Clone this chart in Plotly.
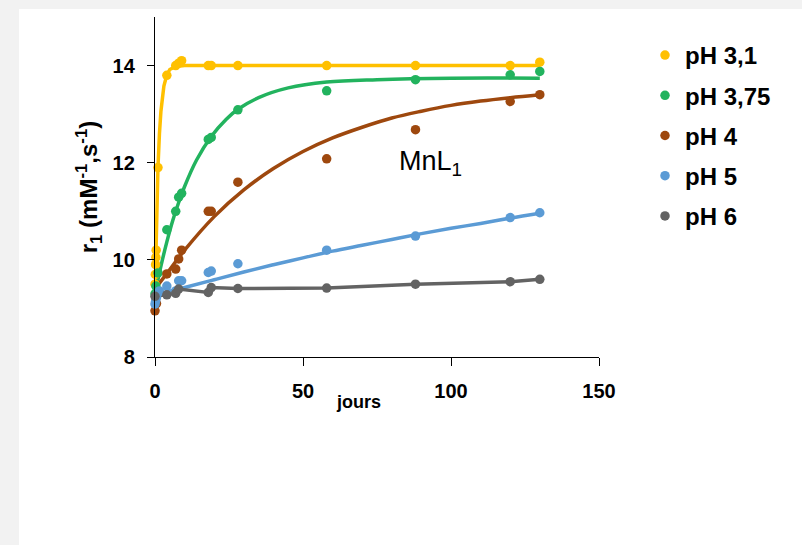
import plotly.graph_objects as go

# ---- data ----
series_names = ["pH 3,1", "pH 3,75", "pH 4", "pH 5", "pH 6"]
colors = ["#FFC000", "#22B35E", "#9E480E", "#5B9BD5", "#636363"]

# measured points
t_ph31 = [0, 0.1, 0.2, 0.3, 0.4, 1, 4, 7, 8, 9, 18, 19, 28, 58, 88, 120, 130]
r_ph31 = [9.5, 9.7, 9.9, 10.05, 10.2, 11.9, 13.8, 14.0, 14.05, 14.1, 14.0, 14.0, 14.0, 14.0, 14.0, 14.0, 14.07]

t_ph375 = [0, 0.3, 1, 4, 7, 8, 9, 18, 19, 28, 58, 88, 120, 130]
r_ph375 = [9.3, 9.46, 9.73, 10.62, 11.0, 11.29, 11.37, 12.48, 12.52, 13.09, 13.48, 13.71, 13.81, 13.88]

t_ph4 = [0, 0.5, 4, 7, 8, 9, 18, 19, 28, 58, 88, 120, 130]
r_ph4 = [8.95, 9.1, 9.71, 9.81, 10.02, 10.2, 11.0, 11.0, 11.6, 12.08, 12.68, 13.26, 13.4]

t_ph5 = [0, 0.2, 0.5, 1, 1.5, 4, 7, 8, 9, 18, 19, 28, 58, 88, 120, 130]
r_ph5 = [9.09, 9.15, 9.22, 9.32, 9.36, 9.46, 9.36, 9.57, 9.57, 9.74, 9.77, 9.92, 10.2, 10.49, 10.87, 10.97]

t_ph6 = [0, 4, 7, 8, 18, 19, 28, 58, 88, 120, 130]
r_ph6 = [9.25, 9.28, 9.31, 9.4, 9.33, 9.43, 9.41, 9.42, 9.5, 9.55, 9.6]

# fitted curves
fit_t_ph31 = [0, 0.25, 0.5, 1, 1.5, 2, 3, 4, 5, 7, 10, 130]
fit_r_ph31 = [9.3, 10.16, 10.86, 11.9, 12.6, 13.06, 13.58, 13.81, 13.92, 13.98, 14.0, 14.0]

fit_t_ph375 = [0, 2, 4, 6, 8, 10, 14, 19, 24, 28, 35, 45, 58, 75, 100, 130]
fit_r_ph375 = [9.3, 9.87, 10.37, 10.81, 11.18, 11.51, 12.05, 12.54, 12.89, 13.10, 13.34, 13.54, 13.66, 13.71, 13.74, 13.74]

fit_t_ph4 = [0, 5, 10, 20, 30, 40, 50, 60, 70, 80, 90, 100, 110, 120, 130]
fit_r_ph4 = [9.4, 9.80, 10.20, 10.89, 11.44, 11.88, 12.23, 12.51, 12.73, 12.92, 13.06, 13.18, 13.27, 13.34, 13.40]

fit_t_ph5 = [0, 10, 20, 30, 40, 50, 60, 70, 80, 90, 100, 110, 120, 130]
fit_r_ph5 = [9.28, 9.43, 9.59, 9.75, 9.9, 10.04, 10.18, 10.3, 10.42, 10.54, 10.65, 10.75, 10.86, 10.96]

x_ticks = [0, 50, 100, 150]
y_ticks = [8, 10, 12, 14]

points = [(t_ph31, r_ph31), (t_ph375, r_ph375), (t_ph4, r_ph4), (t_ph5, r_ph5), (t_ph6, r_ph6)]
fits = [(fit_t_ph31, fit_r_ph31, "linear"), (fit_t_ph375, fit_r_ph375, "spline"),
        (fit_t_ph4, fit_r_ph4, "spline"), (fit_t_ph5, fit_r_ph5, "spline"),
        (t_ph6, r_ph6, "linear")]

FONT = "Liberation Sans, Arial, sans-serif"

fig = go.Figure()
for i, (name, col) in enumerate(zip(series_names, colors)):
    ft, fr, shape = fits[i]
    fig.add_trace(go.Scatter(x=ft, y=fr, mode="lines", line=dict(color=col, width=3.5, shape=shape),
                             showlegend=False, hoverinfo="skip", cliponaxis=False))
for i, (name, col) in enumerate(zip(series_names, colors)):
    pt, pr = points[i]
    fig.add_trace(go.Scatter(x=pt, y=pr, mode="markers", name=name, legendgroup=name,
                             marker=dict(color=col, size=9.5), cliponaxis=False))

fig.update_layout(
    width=802, height=545,
    margin=dict(l=155, r=203, t=17, b=188),
    paper_bgcolor="#F2F2F2",
    plot_bgcolor="rgba(0,0,0,0)",
    font=dict(family=FONT, color="#000000"),
    shapes=[dict(type="rect", xref="paper", yref="paper", layer="below",
                 x0=(19 - 155) / 444, x1=(802 - 155) / 444 + 0.05,
                 y0=(357 - 560) / 340, y1=(357 - 9) / 340,
                 fillcolor="#FFFFFF", line=dict(width=0))],
    xaxis=dict(range=[0, 150], tickvals=x_ticks, showgrid=False, zeroline=False,
               showline=True, linecolor="#000000", linewidth=1.3,
               ticks="outside", ticklen=8, tickcolor="#000000", tickwidth=1.3,
               tickfont=dict(family=FONT, size=20, color="#000000", weight="bold"),
               ticklabelstandoff=8),
    yaxis=dict(range=[8, 15], tickvals=y_ticks, showgrid=False, zeroline=False,
               showline=True, linecolor="#000000", linewidth=1.3,
               ticks="outside", ticklen=7, tickcolor="#000000", tickwidth=1.3,
               tickfont=dict(family=FONT, size=20, color="#000000", weight="bold"),
               ticklabelstandoff=8,
               title=dict(text="r<sub>1</sub> (mM<sup>-1</sup>,s<sup>-1</sup>)",
                          font=dict(family=FONT, size=24, color="#000000", weight="bold"),
                          standoff=8)),
    legend=dict(x=(645 - 155) / 444, y=(357 - 33) / 340, xanchor="left", yanchor="top",
                bgcolor="rgba(0,0,0,0)", traceorder="grouped", tracegroupgap=6,
                font=dict(family=FONT, size=24, color="#000000", weight="bold"),
                itemsizing="trace"),
    annotations=[
        dict(text="jours", x=68.6, y=(357 - 401.7) / 340, xref="x", yref="paper",
             xanchor="center", yanchor="middle", showarrow=False,
             font=dict(family=FONT, size=18, color="#000000", weight="bold")),
        dict(text="MnL<sub>1</sub>", x=93.2, y=12.0, xref="x", yref="y",
             xanchor="center", yanchor="middle", showarrow=False,
             font=dict(family=FONT, size=27, color="#000000")),
    ],
)

fig.write_html("out.html")
